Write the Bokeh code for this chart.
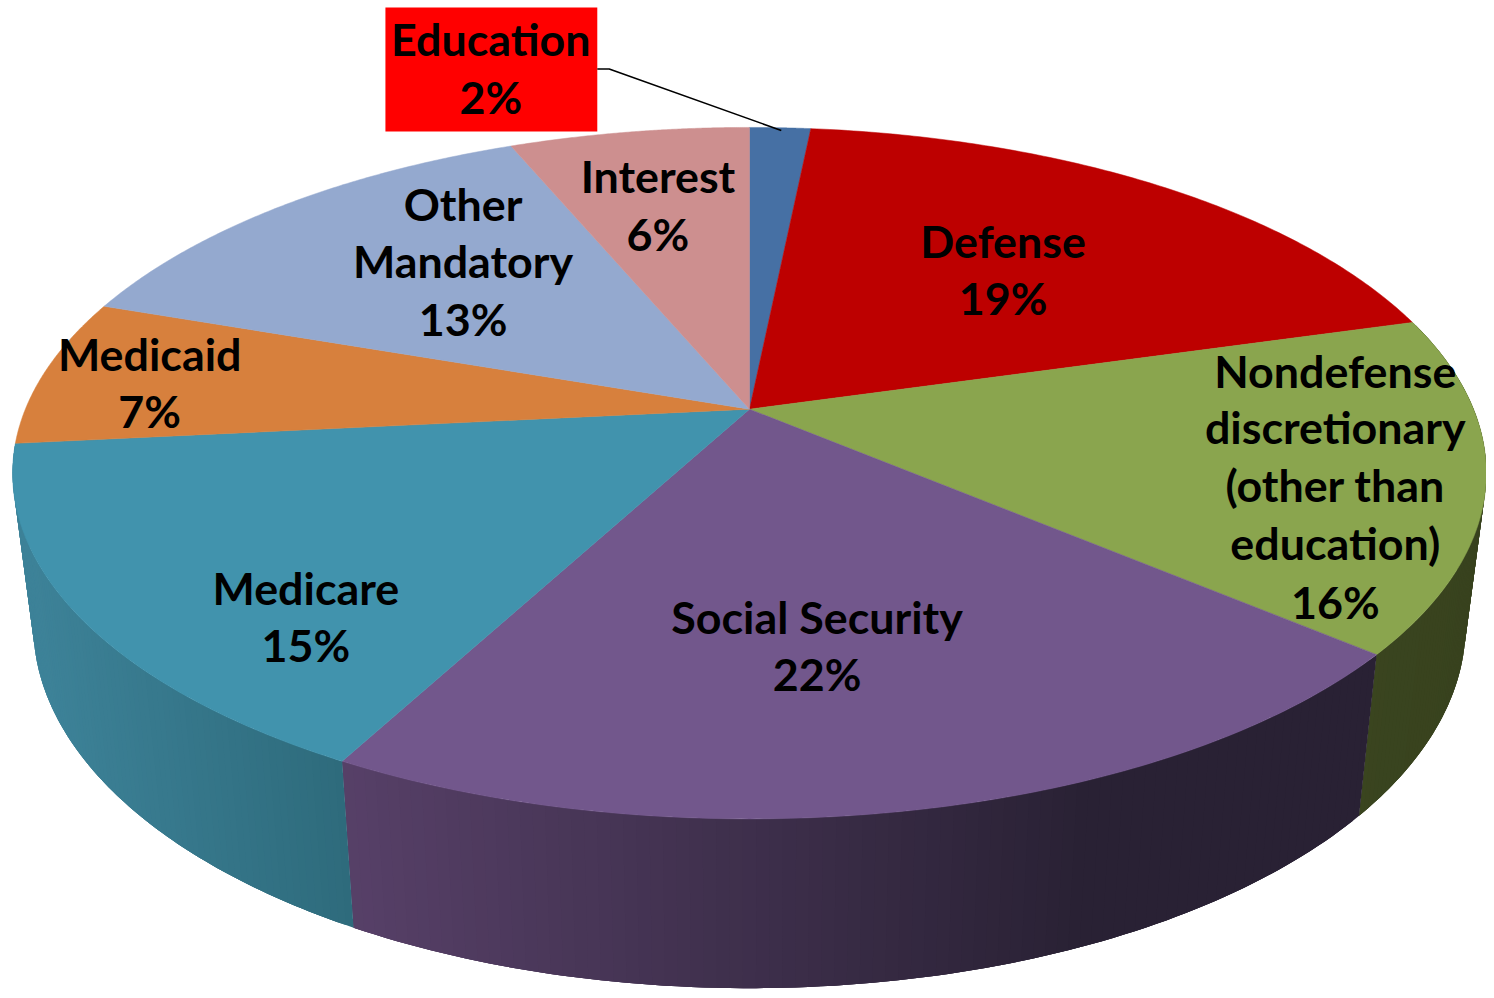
import numpy as np
from bokeh.plotting import figure
from bokeh.models import Range1d
from bokeh.core.properties import value
from bokeh.embed import file_html
from bokeh.resources import INLINE

# Data
categories = ["Education", "Defense", "Nondefense\ndiscretionary\n(other than\neducation)",
              "Social Security", "Medicare", "Medicaid", "Other\nMandatory", "Interest"]
shares = [1.6, 19.0, 15.6, 21.6, 15.6, 6.9, 13.4, 6.3]
percent_labels = ["2%", "19%", "16%", "22%", "15%", "7%", "13%", "6%"]
top_colors = ["#4670a4", "#bd0000", "#8aa54e", "#72578c", "#4193ad", "#d7803d", "#94a9cf", "#cd8f8f"]
wall_left = ["#3a5a82", "#8a0000", "#3a451f", "#574068", "#3d8298", "#a0602e", "#6f7f9b", "#9a6b6b"]
wall_right = ["#3a5a82", "#8a0000", "#38421e", "#292134", "#2e6b7c", "#a0602e", "#6f7f9b", "#9a6b6b"]
shade_from = [0, 0, 1360, 345, 40, 0, 0, 0]
shade_to = [1, 1, 1480, 1090, 350, 1, 1, 1]
label_x = [493, 1008, 1342, 821, 307, 150, 465, 661]
label_y = [[39, 97], [242, 300], [373, 430, 488, 547, 606], [621, 679], [592, 650],
           [356, 414], [205, 263, 321], [177, 235]]

FONT = "Lato"
FONT_SIZE = "44.8px"

# Projection of the disc
CX, CY = 753.0, 412.0
A, B, K = 728.0, 336.6, 0.185
BOTTOM_SX, BOTTOM_SY, BOTTOM_DY = 0.972, 1.05, 150.0


def project(theta):
    sx, cy = np.sin(theta), np.cos(theta)
    w = 1 + K * cy
    return CX + A * sx / w, CY - B * cy / w


def project_bottom(theta):
    x, y = project(theta)
    return CX + BOTTOM_SX * (x - CX), CY + BOTTOM_DY + BOTTOM_SY * (y - CY)


def mix(c1, c2, t):
    a = [int(c1[i:i + 2], 16) for i in (1, 3, 5)]
    b = [int(c2[i:i + 2], 16) for i in (1, 3, 5)]
    return "#%02x%02x%02x" % tuple(int(round(p + (q - p) * t)) for p, q in zip(a, b))


p = figure(width=1486, height=990, output_backend="svg", toolbar_location=None,
           x_range=Range1d(0, 1494), y_range=Range1d(998, 0),
           min_border=0, outline_line_color=None, background_fill_color="white",
           border_fill_color="white", x_axis_location=None, y_axis_location=None)
p.grid.visible = False

edges = np.cumsum([0.0] + shares) / sum(shares) * 2 * np.pi

# Walls: overlapping bands, later bands paint over the seam of earlier ones
for i in (2, 3, 4):
    n = 90
    th = np.linspace(edges[i], edges[i + 1], n + 1)
    xt, yt = project(th)
    xb, yb = project_bottom(th)
    xs, ys, colors = [], [], []
    for j in range(n):
        e = min(j + 3, n)
        xs.append(np.r_[xt[j:e + 1], xb[j:e + 1][::-1]])
        ys.append(np.r_[yt[j:e + 1], yb[j:e + 1][::-1]])
        mid = (xt[j] + xt[j + 1] + xb[j] + xb[j + 1]) / 4
        t = np.clip((mid - shade_from[i]) / (shade_to[i] - shade_from[i]), 0, 1)
        colors.append(mix(wall_left[i], wall_right[i], t))
    p.patches(xs, ys, fill_color=colors, line_color=None)

# Top surface
for i in range(len(shares)):
    th = np.linspace(edges[i], edges[i + 1], 120)
    x, y = project(th)
    p.patch(np.r_[CX, x], np.r_[CY, y], fill_color=top_colors[i], line_color=top_colors[i], line_width=0.5)

# Education call-out
p.quad(left=[387], right=[600], top=[7], bottom=[132], fill_color="#ff0000", line_color=None)
p.line([600, 612, 785], [69, 69, 131], line_color="black", line_width=1.6)

# Labels
for cat, pct, x, ys in zip(categories, percent_labels, label_x, label_y):
    lines = cat.split("\n") + [pct]
    p.text([x] * len(lines), ys, text=lines, text_align="center", text_baseline="middle",
           text_color="black", text_font=value(FONT), text_font_style="bold",
           text_font_size=value(FONT_SIZE))

open("out.html", "w").write(file_html(p, INLINE))
